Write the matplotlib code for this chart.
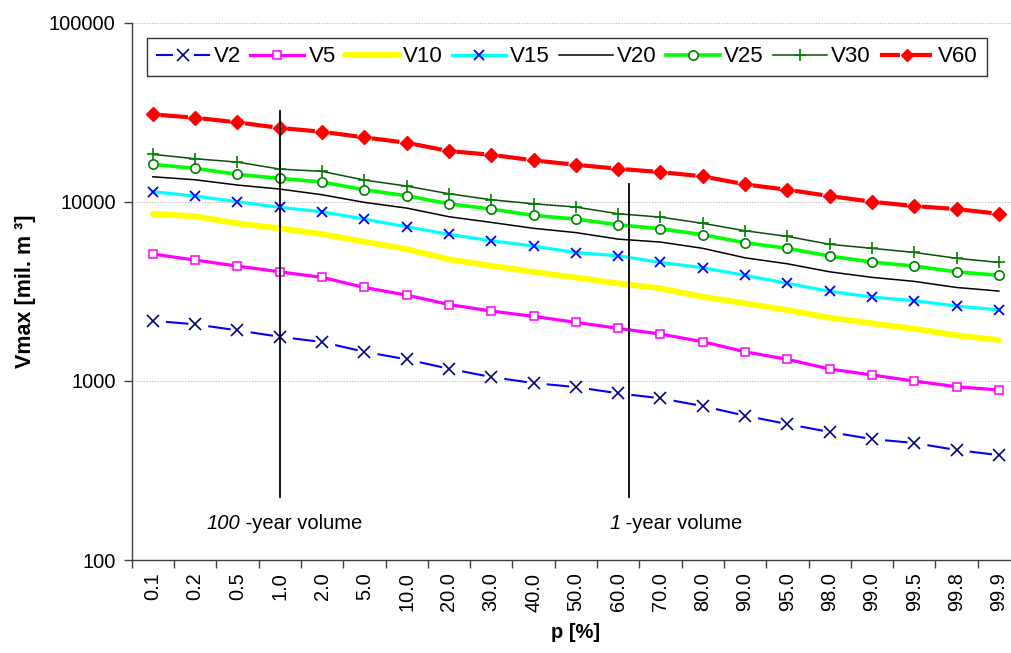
import numpy as np
import matplotlib
matplotlib.use("Agg")
import matplotlib.pyplot as plt
from matplotlib.lines import Line2D
from matplotlib.collections import LineCollection
from matplotlib.ticker import FixedLocator, NullFormatter, FixedFormatter, NullLocator

plt.rcParams['font.family'] = ['Liberation Sans', 'DejaVu Sans']
plt.rcParams['lines.scale_dashes'] = False

# ---------------- data ----------------
p_labels = ["0.1", "0.2", "0.5", "1.0", "2.0", "5.0", "10.0", "20.0", "30.0", "40.0", "50.0",
            "60.0", "70.0", "80.0", "90.0", "95.0", "98.0", "99.0", "99.5", "99.8", "99.9"]

V2 = [2165, 2067, 1913, 1762, 1646, 1453, 1318, 1168, 1050, 972, 923,
      852, 799, 723, 639, 574, 518, 473, 450, 411, 385]
V5 = [5100, 4720, 4370, 4060, 3780, 3320, 3010, 2666, 2452, 2290, 2120,
      1963, 1825, 1653, 1453, 1318, 1164, 1078, 997, 927, 889]
V10 = [8560, 8280, 7570, 7100, 6596, 5975, 5440, 4764, 4390, 4060, 3770,
       3500, 3280, 2946, 2707, 2485, 2250, 2094, 1953, 1795, 1690]
V15 = [11360, 10750, 9990, 9295, 8780, 7995, 7245, 6570, 6050, 5650, 5200,
       4990, 4580, 4280, 3880, 3500, 3160, 2935, 2800, 2615, 2485]
V20 = [13770, 13250, 12380, 11760, 10930, 9910, 9210, 8240, 7660, 7100, 6720,
       6180, 5950, 5490, 4860, 4500, 4060, 3780, 3590, 3320, 3170]
V25 = [16150, 15340, 14200, 13490, 12870, 11650, 10790, 9730, 9090, 8385, 7995,
       7430, 7060, 6540, 5900, 5490, 4970, 4600, 4370, 4060, 3880]
V30 = [18370, 17360, 16630, 15200, 14760, 13200, 12220, 11070, 10250, 9730, 9330,
       8560, 8200, 7570, 6880, 6400, 5780, 5490, 5210, 4830, 4580]
V60 = [30700, 29400, 27700, 25800, 24550, 22850, 21320, 19160, 18270, 17000, 16070,
       15260, 14630, 13840, 12490, 11650, 10750, 9990, 9450, 9090, 8560]

series_labels = ["V2", "V5", "V10", "V15", "V20", "V25", "V30", "V60"]

y_ticks = [100, 1000, 10000, 100000]
y_tick_labels = ["100", "1000", "10000", "100000"]

# annotation lines (category position, bottom value, top value)
ann_lines = [(3.0, 225, 32000), (11.25, 225, 12600)]
# annotation texts: (boundary position, italic part, normal part)
ann_texts = [(2.07, "100", " -year volume"), (11.05, "1", " -year volume")]
ann_text_y = 160

x = np.arange(len(p_labels))

# ---------------- figure ----------------
fig = plt.figure(figsize=(10.12, 6.53), dpi=100)
ax = fig.add_axes([131.7 / 1012, 1 - 560 / 653, 888.3 / 1012, (560 - 22.5) / 653])
ax.set_yscale('log')
ax.set_ylim(100, 100000)
ax.set_xlim(-0.5, len(p_labels) - 0.5)


def gapped(xv, yv, t0, t1):
    segs = []
    for i in range(len(xv) - 1):
        l0, l1 = np.log10(yv[i]), np.log10(yv[i + 1])
        ts = np.array([t0, t1])
        segs.append(np.column_stack([xv[i] + ts * (xv[i + 1] - xv[i]),
                                     10 ** (l0 + ts * (l1 - l0))]))
    return segs


# V2: long dashes between markers
ax.add_collection(LineCollection(gapped(x, V2, 0.31, 0.84), colors='#0000FF',
                                 linewidths=1.5, zorder=3))
ax.plot(x, V2, linestyle='none', marker='x', markersize=9, markeredgewidth=1.2,
        color='#000080', zorder=4)

# V5
ax.plot(x, V5, color='#FF00FF', lw=2.3, marker='s', markersize=5.8,
        markerfacecolor='white', markeredgecolor='#FF00FF', markeredgewidth=1.1, zorder=3)
# V10
ax.plot(x, V10, color='#FFFF00', lw=4.2, solid_capstyle='round', zorder=3)
# V15
ax.plot(x, V15, color='#00FFFF', lw=2.3, marker='x', markersize=6.7,
        markeredgecolor='#0000FF', markeredgewidth=1.3, zorder=3)
# V20
ax.plot(x, V20, color='black', lw=1.1, zorder=3)
# V25
ax.plot(x, V25, color='#00FF00', lw=2.6, marker='o', markersize=6.7,
        markerfacecolor='white', markeredgecolor='#008000', markeredgewidth=1.2, zorder=3)
# V30
ax.plot(x, V30, color='#0B4D0B', lw=1.1, marker='+', markersize=8,
        markeredgecolor='#008000', markeredgewidth=1.2, zorder=3)
# V60: thick dashes between diamonds
ax.add_collection(LineCollection(gapped(x, V60, 0.18, 0.83), colors='#FF0000',
                                 linewidths=3, zorder=3))
ax.plot(x, V60, linestyle='none', marker='D', markersize=7.5, color='#FF0000', zorder=4)

# annotation lines and texts
for xp, lo, hi in ann_lines:
    ax.plot([xp, xp], [lo, hi], color='black', lw=1.3, zorder=5)
for xp, s_it, s_rm in ann_texts:
    ax.text(xp, ann_text_y, s_it, ha='right', va='center', fontsize=14.5, fontstyle='italic')
    ax.text(xp, ann_text_y, s_rm, ha='left', va='center', fontsize=14.5)

# axes styling
for side in ('top', 'right'):
    ax.spines[side].set_visible(False)
for side in ('left', 'bottom'):
    ax.spines[side].set_color('#404040')
    ax.spines[side].set_linewidth(1.0)

ax.yaxis.set_major_locator(FixedLocator(y_ticks))
ax.yaxis.set_major_formatter(FixedFormatter(y_tick_labels))
ax.yaxis.set_minor_locator(NullLocator())
ax.tick_params(axis='y', which='major', direction='out', length=6, width=1,
               color='#404040', labelsize=14.4, pad=5.5)
ax.grid(axis='y', which='major', color='#C0C0C0', lw=0.8, linestyle=(0, (1, 1)))

ax.xaxis.set_major_locator(FixedLocator(np.arange(len(p_labels) + 1) - 0.5))
ax.xaxis.set_major_formatter(NullFormatter())
ax.xaxis.set_minor_locator(FixedLocator(x))
ax.xaxis.set_minor_formatter(FixedFormatter(p_labels))
ax.tick_params(axis='x', which='major', direction='out', length=6, width=1, color='#404040')
ax.tick_params(axis='x', which='minor', length=0, labelsize=14.4, labelrotation=90, pad=9)

ax.set_ylabel("Vmax [mil. m \u00b3]", fontsize=15.5, fontweight='bold', labelpad=9)
ax.set_xlabel("p [%]", fontsize=14.5, fontweight='bold', labelpad=8)

# legend
handles = [
    Line2D([], [], color='#0000FF', lw=1.5, linestyle=(0, (12.2, 15.1)), marker='x',
           markersize=9, markeredgewidth=1.2, markeredgecolor='#000080'),
    Line2D([], [], color='#FF00FF', lw=2.3, marker='s', markersize=5.8,
           markerfacecolor='white', markeredgecolor='#FF00FF', markeredgewidth=1.1),
    Line2D([], [], color='#FFFF00', lw=4.2, solid_capstyle='round'),
    Line2D([], [], color='#00FFFF', lw=2.3, marker='x', markersize=6.7,
           markeredgecolor='#0000FF', markeredgewidth=1.3),
    Line2D([], [], color='black', lw=1.1),
    Line2D([], [], color='#00FF00', lw=2.6, marker='o', markersize=6.7,
           markerfacecolor='white', markeredgecolor='#008000', markeredgewidth=1.2),
    Line2D([], [], color='#0B4D0B', lw=1.1, marker='+', markersize=8,
           markeredgecolor='#008000', markeredgewidth=1.2),
    Line2D([], [], color='#FF0000', lw=3, linestyle=(0, (14.4, 8.6)), marker='D',
           markersize=6, markeredgecolor='#FF0000', markerfacecolor='#FF0000'),
]
leg = fig.legend(handles, series_labels, loc='upper left',
                 bbox_to_anchor=(147 / 1012, 1 - 37.5 / 653),
                 ncol=8, fontsize=16, frameon=True, fancybox=False, shadow=False,
                 handlelength=2.43, handletextpad=0.18, columnspacing=0.42,
                 borderpad=0.4, borderaxespad=0, numpoints=1)
leg.get_frame().set_edgecolor('black')
leg.get_frame().set_linewidth(1.0)

fig.savefig("out.png", dpi=100)
